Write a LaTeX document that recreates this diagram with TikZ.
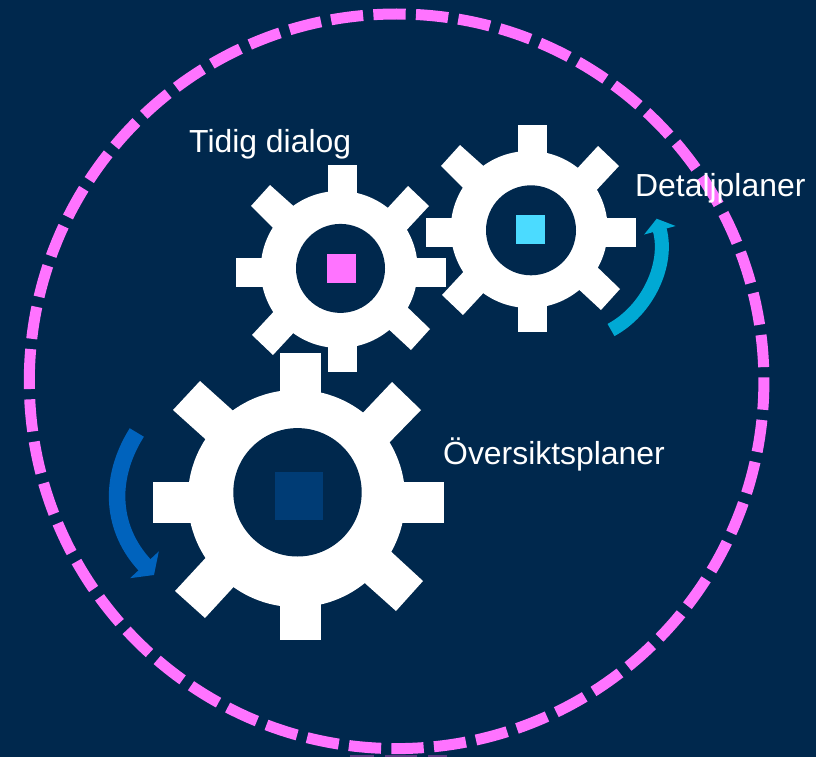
\documentclass[tikz,border=0pt]{standalone}
\usepackage{fontspec}
\setmainfont{Liberation Sans}
\usetikzlibrary{arrows.meta}
\definecolor{bgnavy}{RGB}{0,40,77}
\definecolor{ringpink}{RGB}{255,115,255}
\definecolor{ringfaint}{RGB}{90,60,130}
\definecolor{hubcyan}{RGB}{75,219,255}
\definecolor{hubnavy}{RGB}{0,60,117}
\definecolor{arrowteal}{RGB}{0,169,212}
\definecolor{arrowblue}{RGB}{0,99,189}

\newcommand{\midgear}[1]{
	\foreach \pts in {
		{(518,125) -- (547,125) -- (547,165) -- (518,165)},
		{(518,332) -- (547,332) -- (547,295) -- (518,295)},
		{(426,218) -- (426,247) -- (465,247) -- (465,218)},
		{(636,218) -- (636,247) -- (595,247) -- (595,218)},
		{(441,166) -- (460,145) -- (489,171) -- (468,193)},
		{(598,146) -- (619,166) -- (592,195) -- (573,173)},
		{(442,295) -- (463,315) -- (488,288) -- (468,267)},
		{(620,289) -- (601,310) -- (574,285) -- (593,263)}}
		\fill[gearpart,#1] \pts -- cycle;
	\fill[gearpart,#1] (529.2,229.5) circle (78.5);
}

\begin{document}
\begin{tikzpicture}[x=1pt,y=-1pt,gearpart/.style={white},
	turn/.style={line width=#1},
	label/.style={text=white,inner sep=0pt,anchor=base west,font=\fontsize{31.9}{36}\selectfont}]

	\useasboundingbox (0,0) rectangle (816,757);
	\fill[bgnavy] (0,0) rectangle (816,757);

	% The ring
	\draw[ringpink,line width=11pt,dash pattern=on 32.3pt off 10.3pt] (29.3,381.3) arc[start angle=180,end angle=540,radius=367.3];
	\foreach \xa/\xb in {350/374,385/417,428/447}
		\fill[ringfaint] (\xa,755) rectangle (\xb,757);

	% Gears
	\midgear{}
	\midgear{xshift=-190pt,yshift=-40pt}
	\fill[bgnavy] (531,230.3) circle (45);
	\fill[bgnavy] (340.5,268.4) circle (44.5);
	\foreach \pts in {
		{(280,353) -- (321,353) -- (321,400) -- (280,400)},
		{(280,640) -- (321,640) -- (321,590) -- (280,590)},
		{(153,482) -- (153,523) -- (200,523) -- (200,482)},
		{(444,482) -- (444,523) -- (400,523) -- (400,482)},
		{(173,410) -- (200,381) -- (240,417) -- (213,446)},
		{(392,382) -- (421,410) -- (384,448) -- (357,419)},
		{(175,591) -- (205,618) -- (240,580) -- (212,551)},
		{(423,581) -- (396,611) -- (358,577) -- (385,546)}}
		\fill[gearpart] \pts -- cycle;
	\fill[gearpart] (296.5,498.5) circle (108.7);
	\fill[bgnavy] (297.5,492.3) circle (64.2);

	% Hubs
	\fill[ringpink] (327,254) rectangle (356,283);
	\fill[hubcyan] (516,215) rectangle (545,244);
	\fill[hubnavy] (275,472) rectangle (323,520);

	% Turning arrows
	\draw[arrowteal,turn=14pt,-{Triangle[length=12pt,width=32pt]}] (611,330) .. controls (648,310) and (669,264) .. (656.7,218.7);
	\draw[arrowblue,turn=16.5pt,-{Triangle[length=14pt,width=38.6pt]}] (136.8,432.5) .. controls (107,480) and (112,530) .. (154,575);

	% Labels
	\node[label] at (189,153) (tidig) {Tidig dialog};
	\node[label] at (635,196) (detalj) {Detaljplaner};
	\node[label] at (443,464) (oversikt) {Översiktsplaner};

\end{tikzpicture}
\end{document}
